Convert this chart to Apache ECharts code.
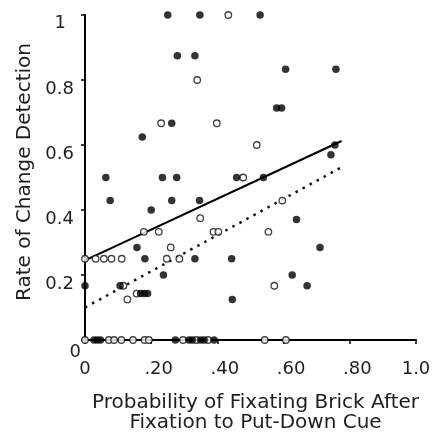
<!DOCTYPE html>
<html>
<head>
<meta charset="utf-8">
<script src="https://cdn.jsdelivr.net/npm/echarts@6/dist/echarts.min.js"></script>
<style>
  html, body { margin: 0; padding: 0; background: #fff; }
  #chart { width: 436px; height: 438px; }
</style>
</head>
<body>
<div id="chart"></div>
<script>
// Filled markers: [probability of fixating brick, rate of change detection]
const filledPoints = [
  [0.250, 1.0], [0.347, 1.0], [0.529, 1.0],
  [0.279, 0.875], [0.332, 0.875],
  [0.606, 0.833], [0.758, 0.833],
  [0.579, 0.714], [0.594, 0.714],
  [0.262, 0.667],
  [0.173, 0.625],
  [0.755, 0.600],
  [0.743, 0.570],
  [0.063, 0.5], [0.234, 0.5], [0.277, 0.5], [0.458, 0.5], [0.539, 0.5],
  [0.076, 0.429], [0.262, 0.429], [0.346, 0.429],
  [0.200, 0.400],
  [0.639, 0.371],
  [0.157, 0.285], [0.710, 0.285],
  [0.181, 0.25], [0.332, 0.25], [0.443, 0.25],
  [0.237, 0.200], [0.626, 0.200],
  [0.0, 0.167], [0.106, 0.167], [0.671, 0.167],
  [0.168, 0.143], [0.179, 0.143], [0.189, 0.143],
  [0.445, 0.125],
  [0.027, 0], [0.037, 0], [0.047, 0], [0.273, 0], [0.314, 0], [0.324, 0],
  [0.349, 0], [0.360, 0], [0.390, 0]
];

// Open markers
const openPoints = [
  [0.433, 1.0],
  [0.339, 0.8],
  [0.230, 0.667], [0.398, 0.667],
  [0.519, 0.6],
  [0.478, 0.5],
  [0.596, 0.429],
  [0.348, 0.375],
  [0.178, 0.333], [0.223, 0.333], [0.388, 0.333], [0.403, 0.333], [0.554, 0.333],
  [0.259, 0.285],
  [0.0, 0.25], [0.032, 0.25], [0.057, 0.25], [0.080, 0.25], [0.111, 0.25],
  [0.247, 0.25], [0.285, 0.25],
  [0.116, 0.167], [0.572, 0.167],
  [0.156, 0.143],
  [0.128, 0.125],
  [0.0, 0], [0.072, 0], [0.088, 0], [0.110, 0], [0.145, 0], [0.180, 0],
  [0.193, 0], [0.296, 0], [0.336, 0], [0.372, 0], [0.543, 0], [0.607, 0]
];

// Fitted lines (end points)
const filledFit = [[0, 0.245], [0.775, 0.612]];
const openFit = [[0, 0.100], [0.772, 0.530]];

const xTicks = [0, 0.2, 0.4, 0.6, 0.8, 1.0];
const xTickText = ['0', '.20', '.40', '.60', '.80', '1.0'];
const yTicks = [0, 0.2, 0.4, 0.6, 0.8, 1.0];
const yTickText = ['0', '0.2', '0.4', '0.6', '0.8', '1'];

const FONT = 'DejaVu Sans, Verdana, sans-serif';
const INK = '#1e1e1e';

function nearestIndex(ticks, v) {
  let best = 0;
  ticks.forEach((t, i) => { if (Math.abs(t - v) < Math.abs(ticks[best] - v)) best = i; });
  return best;
}

const chart = echarts.init(document.getElementById('chart'), null, { renderer: 'canvas' });

chart.setOption({
  animation: false,
  backgroundColor: '#fff',
  grid: { left: 85, top: 15, width: 331, height: 331.5, containLabel: false },
  xAxis: {
    type: 'value',
    min: 0, max: 1, interval: 0.2,
    name: 'Probability of Fixating Brick After\nFixation to Put-Down Cue',
    nameLocation: 'middle',
    nameGap: 53,
    nameTextStyle: {
      fontFamily: FONT, fontSize: 20, color: INK, lineHeight: 20,
      verticalAlign: 'top', padding: [0, 0, 0, 10]
    },
    splitLine: { show: false },
    axisLine: { show: true, onZero: false, lineStyle: { color: '#000', width: 2 } },
    axisTick: { show: true, inside: false, length: 4, lineStyle: { color: '#000', width: 1.5 } },
    axisLabel: {
      margin: 20,
      fontFamily: FONT, fontSize: 18, color: INK,
      formatter: function (v) {
        const i = nearestIndex(xTicks, v);
        const t = xTickText[i];
        return (i === 0 || i === xTicks.length - 1) ? '{e|' + t + '}' : '{m|' + t + '}';
      },
      rich: {
        e: { fontFamily: FONT, fontSize: 18, color: INK },
        m: { fontFamily: FONT, fontSize: 18, color: INK, padding: [0, 0, 0, 15] }
      }
    }
  },
  yAxis: {
    type: 'value',
    min: 0, max: 1, interval: 0.2,
    name: 'Rate of Change Detection',
    nameLocation: 'middle',
    nameGap: 45,
    nameRotate: 90,
    nameTextStyle: { fontFamily: FONT, fontSize: 20, color: INK, padding: [0, 0, 0, 11] },
    splitLine: { show: false },
    axisLine: { show: true, lineStyle: { color: '#000', width: 2 } },
    axisTick: { show: true, inside: false, length: 4, lineStyle: { color: '#000', width: 1.5 } },
    axisLabel: {
      margin: 4,
      fontFamily: FONT, fontSize: 18, color: INK,
      formatter: function (v) {
        const i = nearestIndex(yTicks, v);
        const t = yTickText[i];
        if (i === 0) return '{z|' + t + '}';
        if (i === yTicks.length - 1) return '{o|' + t + '}';
        return '{m|' + t + '}';
      },
      rich: {
        z: { fontFamily: FONT, fontSize: 18, color: INK, padding: [25, 0, 0, 0] },
        m: { fontFamily: FONT, fontSize: 18, color: INK, padding: [19, 7, 0, 0] },
        o: { fontFamily: FONT, fontSize: 18, color: INK, padding: [16, 15, 0, 0] }
      }
    }
  },
  series: [
    {
      type: 'line',
      data: openFit,
      symbol: 'none',
      silent: true,
      z: 3,
      lineStyle: { color: '#111', width: 2.5, type: [2.5, 5.5], cap: 'butt' }
    },
    {
      type: 'line',
      data: filledFit,
      symbol: 'none',
      silent: true,
      z: 3,
      lineStyle: { color: '#000', width: 2.2 }
    },
    {
      type: 'scatter',
      data: openPoints,
      symbol: 'circle',
      symbolSize: 6.5,
      z: 4,
      itemStyle: { color: '#fff', borderColor: '#111', borderWidth: 1.3 }
    },
    {
      type: 'scatter',
      data: filledPoints,
      symbol: 'circle',
      symbolSize: 7.5,
      z: 5,
      itemStyle: { color: '#000' }
    }
  ]
});
</script>
</body>
</html>
